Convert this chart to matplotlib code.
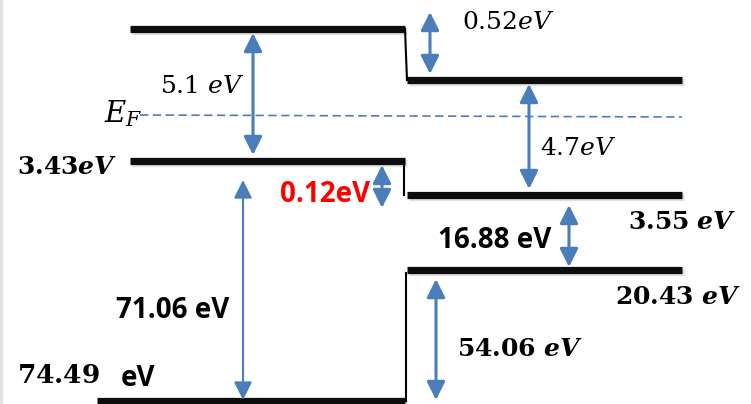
import matplotlib
matplotlib.use('Agg')
import matplotlib.pyplot as plt
import matplotlib.patheffects as pe

plt.rcParams['mathtext.fontset'] = 'dejavuserif'

W, H = 751, 404
blue = '#4a7ebb'

# schematic level rows (drawing units = pixels, y downward)
left_levels_x = (130, 405)
right_levels_x = (407, 682)
left_levels_y = [29, 161, 401]      # vacuum, VBM(3.43), core(74.49)
right_levels_y = [80, 195, 270]     # vacuum, VBM(3.55), core(20.43)
left_bottom_x0 = 97
fermi_y = 116

# double arrows: x, y_top, y_bottom
arrow_x = [253, 430, 529, 382, 243, 569, 436]
arrow_top = [33, 12, 84, 165, 180, 205, 279]
arrow_bot = [155, 74, 189, 208, 400, 267, 400]
arrow_lw = [2.2, 2.2, 2.2, 2.2, 1.5, 2.2, 2.2]

sans = 'Open Sans'

fig = plt.figure(figsize=(W / 100, H / 100), dpi=100)
ax = fig.add_axes([0, 0, 1, 1])
ax.set_xlim(0, W)
ax.set_ylim(H, 0)
ax.axis('off')

shadow = [pe.SimpleLineShadow(offset=(1.5, -1.5), alpha=0.25, shadow_color='gray'), pe.Normal()]

# energy levels
for i, y in enumerate(left_levels_y):
    x0 = left_bottom_x0 if i == 2 else left_levels_x[0]
    ax.plot([x0, left_levels_x[1]], [y, y], color='#0d0d0d', lw=5.2,
            solid_capstyle='butt', path_effects=shadow)
for y in right_levels_y:
    ax.plot(right_levels_x, [y, y], color='#0d0d0d', lw=5.2,
            solid_capstyle='butt', path_effects=shadow)

# band offsets (steps)
ax.plot([405, 407], [left_levels_y[0], right_levels_y[0]], color='black', lw=1.5)
ax.plot([404, 404], [left_levels_y[1], right_levels_y[1]], color='black', lw=1.5)
ax.plot([406, 406], [right_levels_y[2] + 3, left_levels_y[2]], color='black', lw=1.5)

# Fermi level
ax.plot([140, 682], [fermi_y - 1, fermi_y + 1], color=blue, lw=1.2, ls=(0, (5, 2.7)))

for x, y0, y1, lw in zip(arrow_x, arrow_top, arrow_bot, arrow_lw):
    ax.annotate('', xy=(x, y0), xytext=(x, y1),
                arrowprops=dict(arrowstyle='<|-|>,head_length=1.1,head_width=0.55',
                                mutation_scale=10, color=blue, lw=lw,
                                shrinkA=0, shrinkB=0))

# labels
ax.text(160, 86, r'$5.1\ eV$', fontsize=18, ha='left', va='center')
ax.text(104, 114, r'$E_F$', fontsize=21, ha='left', va='center')
ax.text(462, 22, r'$0.52eV$', fontsize=18, ha='left', va='center')
ax.text(540, 148, r'$4.7eV$', fontsize=18, ha='left', va='center')
ax.text(17, 167, r'$\mathbf{3.43}\mathbfit{eV}$', fontsize=18, ha='left', va='center')
ax.text(628, 222, r'$\mathbf{3.55}\ \mathbfit{eV}$', fontsize=18, ha='left', va='center')
ax.text(615, 297, r'$\mathbf{20.43}\ \mathbfit{eV}$', fontsize=18, ha='left', va='center')
ax.text(457, 349, r'$\mathbf{54.06}\ \mathbfit{eV}$', fontsize=18, ha='left', va='center')
ax.text(17, 376, r'$\mathbf{74.49}$', fontsize=19, ha='left', va='center')
ax.text(121, 378, 'eV', fontsize=20, family=sans, weight='bold', ha='left', va='center')
ax.text(280, 195, '0.12eV', fontsize=20, family=sans, weight='bold', color='red',
        ha='left', va='center')
ax.text(438, 241, '16.88 eV', fontsize=20, family=sans, weight='bold', ha='left', va='center')
ax.text(116, 311, '71.06 eV', fontsize=20, family=sans, weight='bold', ha='left', va='center')

# faint left border
ax.plot([1, 1], [0, H], color='#e0e0e0', lw=2)

fig.savefig('out.png', dpi=100)
